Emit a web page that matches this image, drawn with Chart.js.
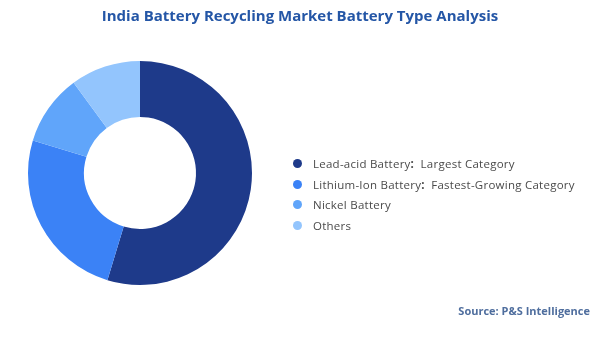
<!DOCTYPE html>
<html>
<head>
<meta charset="utf-8">
<script src="https://cdn.jsdelivr.net/npm/chart.js@4/dist/chart.umd.min.js"></script>
<style>
  body { margin: 0; background: #fff; }
  #wrap { position: relative; width: 600px; height: 337px; overflow: hidden; }
  #myChart { position: absolute; left: 0; top: 0; }
  #title {
    position: absolute; left: 0; top: 5px; width: 600px; text-align: center;
    font-family: "Open Sans", sans-serif; font-weight: 700; font-size: 15px; color: #2456a6;
  }
  #legend { position: absolute; left: 290px; top: 153px; font-family: "Open Sans", sans-serif; font-size: 11.5px; letter-spacing: 0.25px; color: #4a4a4a; }
  .item { height: 20.7px; display: flex; align-items: center; }
  .dot { width: 9px; height: 9px; border-radius: 50%; margin: 0 11px 0 3px; }
  #source {
    position: absolute; right: 10px; top: 303px;
    font-family: "Open Sans", sans-serif; font-weight: 700; font-size: 11px; color: #4f6e9e;
  }
</style>
</head>
<body>
<div id="wrap">
  <canvas id="myChart" width="600" height="337"></canvas>
  <div id="title">India Battery Recycling Market Battery Type Analysis</div>
  <div id="legend"></div>
  <div id="source">Source: P&amp;S Intelligence</div>
</div>
<script>
const labels = ["Lead-acid Battery", "Lithium-Ion Battery", "Nickel Battery", "Others"];
const notes = ["Largest Category", "Fastest-Growing Category", "", ""];
const shares = [54.7, 25, 10.2, 10.1];
const colors = ["#1e3a8a", "#3b82f6", "#60a5fa", "#93c5fd"];

// legend
let legendEl = document.getElementById("legend");
for (let i = 0; i < labels.length; i++) {
  let text = labels[i];
  if (notes[i]) {
    text += "<b>:</b>&nbsp; " + notes[i];
  }
  legendEl.innerHTML += `<div class="item"><span class="dot" style="background:${colors[i]}"></span>${text}</div>`;
}

const data = {
  labels: labels,
  datasets: [
    {
      data: shares,
      backgroundColor: colors,
      borderWidth: 0,
    },
  ],
};

const config = {
  type: "doughnut",
  data: data,
  options: {
    responsive: false,
    animation: false,
    cutout: "50%",
    layout: {
      padding: { left: 28, right: 348, top: 61, bottom: 52 },
    },
    plugins: {
      legend: { display: false },
      tooltip: { enabled: false },
    },
  },
};

const myChart = new Chart(document.getElementById("myChart"), config);
</script>
</body>
</html>
